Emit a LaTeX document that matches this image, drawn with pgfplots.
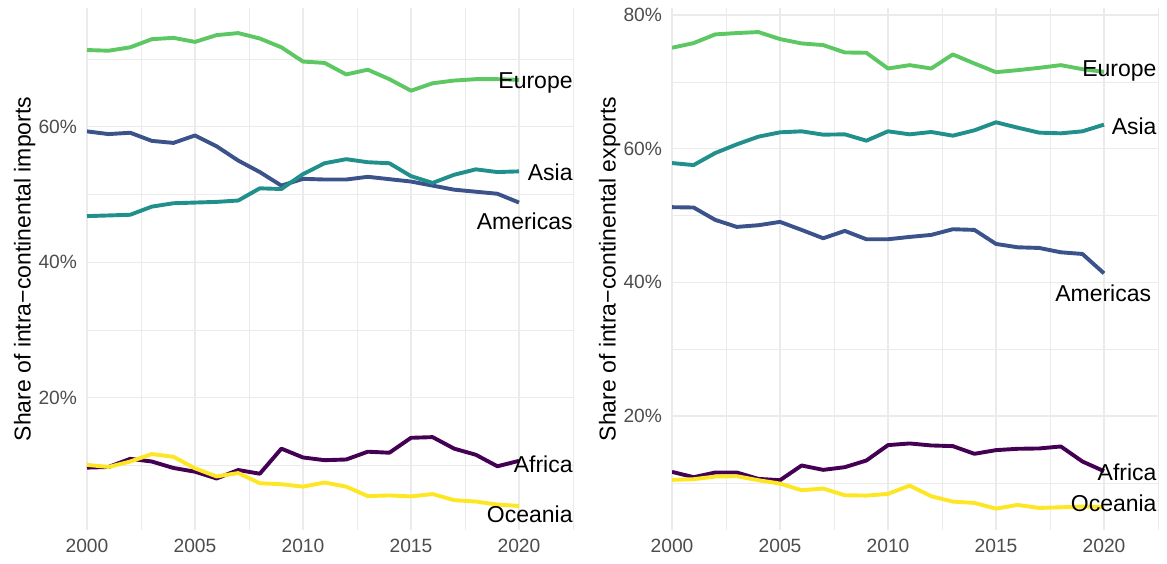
\documentclass[border=0pt]{standalone}
\usepackage{fontspec}
\setmainfont{Liberation Sans}
\usepackage{pgfplots}
\pgfplotsset{compat=1.18}
\definecolor{cAf}{HTML}{440154}
\definecolor{cAm}{HTML}{3B528B}
\definecolor{cAs}{HTML}{21908C}
\definecolor{cEu}{HTML}{5DC863}
\definecolor{cOc}{HTML}{FDE725}
\definecolor{gridc}{HTML}{EBEBEB}
\definecolor{tickc}{HTML}{4D4D4D}
\tikzset{lab/.style={anchor=east, font=\fontsize{11.5}{13}\selectfont, inner sep=0pt}}
\pgfplotsset{
  panel/.style={
    scale only axis, width=243pt, height=261pt,
    xmin=2000, xmax=2022.5,
    axis line style={draw=none}, tick style={draw=none},
    grid=both,
    major grid style={color=gridc, line width=0.6pt},
    minor grid style={color=gridc, line width=0.3pt},
    xtick={2000,2005,2010,2015,2020},
    xticklabels={2000,2005,2010,2015,2020},
    minor xtick={2002.5,2007.5,2012.5,2017.5,2022.5},
    minor ytick={10,30,50,70},
    ticklabel style={font=\fontsize{9.6}{11}\selectfont, text=tickc},
    xticklabel style={yshift=-1.2pt},
    yticklabel style={xshift=-1.5pt},
    ylabel style={at={(axis description cs:-0.128,0.5)}, anchor=center, rotate=0, font=\fontsize{11.5}{13}\selectfont},
    clip mode=individual,
    every axis plot/.append style={line width=1.95pt, line join=round, no markers},
  },
}
\begin{document}
\begin{tikzpicture}
\useasboundingbox (-43.5pt,-16.5pt) rectangle (540pt,265pt);
\begin{axis}[panel, at={(0,0)}, anchor=south west,
  ymin=0.5, ymax=77.5,
  ytick={20,40,60}, yticklabels={20\%,40\%,60\%},
  ylabel={Share of intra−continental imports}]
\addplot[cEu] coordinates {(2000,71.3)(2001,71.2)(2002,71.7)(2003,72.9)(2004,73.1)(2005,72.5)(2006,73.5)(2007,73.8)(2008,73.0)(2009,71.7)(2010,69.6)(2011,69.4)(2012,67.7)(2013,68.4)(2014,67.0)(2015,65.3)(2016,66.4)(2017,66.8)(2018,67.0)(2019,67.0)(2020,66.9)};
\addplot[cAm] coordinates {(2000,59.3)(2001,58.9)(2002,59.1)(2003,57.9)(2004,57.6)(2005,58.7)(2006,57.1)(2007,55.0)(2008,53.3)(2009,51.3)(2010,52.3)(2011,52.2)(2012,52.2)(2013,52.6)(2014,52.25)(2015,51.9)(2016,51.3)(2017,50.7)(2018,50.4)(2019,50.1)(2020,48.8)};
\addplot[cAs] coordinates {(2000,46.8)(2001,46.9)(2002,47.0)(2003,48.2)(2004,48.7)(2005,48.8)(2006,48.9)(2007,49.1)(2008,50.9)(2009,50.8)(2010,53.0)(2011,54.6)(2012,55.2)(2013,54.75)(2014,54.6)(2015,52.7)(2016,51.7)(2017,52.9)(2018,53.7)(2019,53.3)(2020,53.4)};
\addplot[cAf] coordinates {(2000,9.7)(2001,9.8)(2002,11.0)(2003,10.6)(2004,9.65)(2005,9.1)(2006,8.1)(2007,9.35)(2008,8.8)(2009,12.5)(2010,11.2)(2011,10.8)(2012,10.9)(2013,12.05)(2014,11.9)(2015,14.1)(2016,14.2)(2017,12.5)(2018,11.6)(2019,9.9)(2020,10.7)};
\addplot[cOc] coordinates {(2000,10.1)(2001,9.8)(2002,10.6)(2003,11.7)(2004,11.3)(2005,9.6)(2006,8.4)(2007,8.9)(2008,7.4)(2009,7.25)(2010,6.9)(2011,7.5)(2012,6.9)(2013,5.5)(2014,5.6)(2015,5.45)(2016,5.8)(2017,4.9)(2018,4.7)(2019,4.25)(2020,4.05)};
\node[lab] at (axis cs:2022.5,66.5) {Europe};
\node[lab] at (axis cs:2022.5,53.3) {Asia};
\node[lab] at (axis cs:2022.5,46.0) {Americas};
\node[lab] at (axis cs:2022.5,10.2) {Africa};
\node[lab] at (axis cs:2022.5,2.85) {Oceania};
\end{axis}
\begin{axis}[panel, at={(292.5pt,0)}, anchor=south west,
  ymin=2.95, ymax=81.05,
  ytick={20,40,60,80}, yticklabels={20\%,40\%,60\%,80\%},
  ylabel={Share of intra−continental exports}]
\addplot[cEu] coordinates {(2000,75.1)(2001,75.8)(2002,77.1)(2003,77.3)(2004,77.45)(2005,76.4)(2006,75.75)(2007,75.5)(2008,74.4)(2009,74.35)(2010,72.0)(2011,72.5)(2012,72.0)(2013,74.1)(2014,72.75)(2015,71.45)(2016,71.75)(2017,72.1)(2018,72.5)(2019,71.9)(2020,71.5)};
\addplot[cAs] coordinates {(2000,57.85)(2001,57.55)(2002,59.35)(2003,60.65)(2004,61.8)(2005,62.45)(2006,62.6)(2007,62.1)(2008,62.15)(2009,61.2)(2010,62.6)(2011,62.15)(2012,62.5)(2013,61.95)(2014,62.75)(2015,63.95)(2016,63.15)(2017,62.4)(2018,62.3)(2019,62.6)(2020,63.6)};
\addplot[cAm] coordinates {(2000,51.25)(2001,51.2)(2002,49.35)(2003,48.3)(2004,48.55)(2005,49.05)(2006,47.85)(2007,46.6)(2008,47.7)(2009,46.45)(2010,46.45)(2011,46.8)(2012,47.1)(2013,47.95)(2014,47.85)(2015,45.75)(2016,45.25)(2017,45.15)(2018,44.5)(2019,44.25)(2020,41.35)};
\addplot[cAf] coordinates {(2000,11.65)(2001,10.85)(2002,11.55)(2003,11.55)(2004,10.6)(2005,10.4)(2006,12.6)(2007,11.95)(2008,12.35)(2009,13.35)(2010,15.65)(2011,15.9)(2012,15.6)(2013,15.5)(2014,14.35)(2015,14.9)(2016,15.1)(2017,15.15)(2018,15.45)(2019,13.2)(2020,11.75)};
\addplot[cOc] coordinates {(2000,10.45)(2001,10.55)(2002,10.95)(2003,11.0)(2004,10.4)(2005,9.9)(2006,8.9)(2007,9.15)(2008,8.15)(2009,8.1)(2010,8.35)(2011,9.6)(2012,8.0)(2013,7.2)(2014,7.0)(2015,6.15)(2016,6.7)(2017,6.25)(2018,6.35)(2019,6.45)(2020,6.4)};
\node[lab] at (axis cs:2022.45,71.6) {Europe};
\node[lab] at (axis cs:2022.45,63.35) {Asia};
\node[lab] at (axis cs:2022.2,38.3) {Americas};
\node[lab] at (axis cs:2022.45,11.65) {Africa};
\node[lab] at (axis cs:2022.45,7.0) {Oceania};
\end{axis}
\end{tikzpicture}
\end{document}
